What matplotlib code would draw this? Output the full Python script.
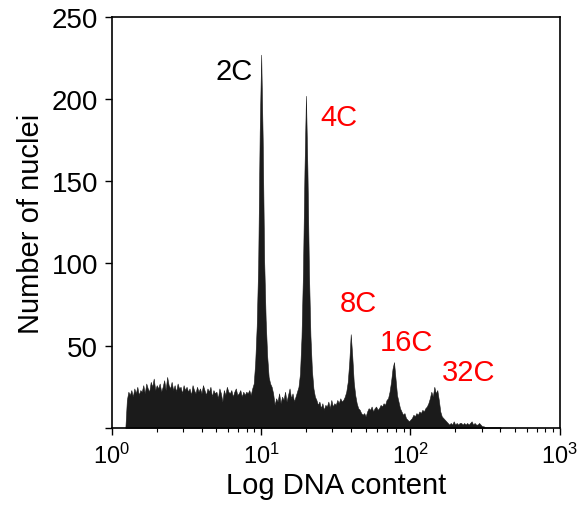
"""DNA content histogram (flow cytometry) with ploidy peaks labelled."""

import numpy as np
import matplotlib

matplotlib.use("Agg")
from matplotlib import pyplot as plt
from matplotlib.ticker import LogLocator, FixedLocator, NullFormatter

plt.rcParams["font.family"] = ["Liberation Sans", "DejaVu Sans"]

# channels are evenly spaced on the log axis, starting at 10**LOG_START
LOG_START = 0.09
LOG_STEP = 0.01

# nuclei per channel (one row per 0.1 decade)
counts = [
    0,
    17, 22, 20, 23, 19, 24, 21, 25, 20, 23,          # 0.10
    22, 26, 21, 27, 24, 22, 28, 25, 30, 23,          # 0.20
    26, 24, 27, 22, 25, 29, 23, 31, 26, 24,          # 0.30
    28, 23, 26, 22, 27, 24, 25, 21, 26, 23,          # 0.40
    25, 22, 24, 20, 26, 23, 21, 25, 22, 24,          # 0.50
    21, 26, 23, 20, 24, 22, 25, 19, 23, 21,          # 0.60
    22, 18, 24, 21, 16, 23, 20, 25, 22, 21,          # 0.70
    23, 19, 22, 24, 20, 21, 23, 19, 22, 20,          # 0.80
    22, 21, 23, 20, 24, 27, 40, 62, 100, 180,        # 0.90  (2C)
    227, 176, 102, 66, 44, 31, 27, 25, 21, 14,       # 1.00
    18, 16, 21, 15, 19, 17, 22, 16, 20, 24,          # 1.10
    18, 21, 16, 19, 22, 25, 33, 55, 95, 156,         # 1.20  (4C)
    202, 156, 95, 56, 35, 24, 19, 17, 14, 16,        # 1.30
    12, 15, 11, 14, 13, 16, 12, 17, 13, 15,          # 1.40
    14, 17, 15, 18, 16, 17, 19, 22, 28, 40,          # 1.50  (8C)
    57, 44, 28, 20, 15, 12, 11, 9, 8, 9,             # 1.60
    7, 10, 12, 11, 13, 10, 12, 13, 11, 12,           # 1.70
    14, 13, 15, 14, 17, 18, 22, 28, 36, 40,          # 1.80  (16C)
    30, 20, 16, 12, 10, 8, 9, 6, 5, 4,               # 1.90
    5, 6, 8, 7, 9, 8, 10, 9, 11, 10,                 # 2.00
    12, 13, 15, 18, 22, 19, 25, 21, 23, 17,          # 2.10  (32C)
    10, 7, 6, 5, 4, 3, 2, 3, 2, 4,                   # 2.20
    2, 3, 2, 3, 3, 2, 3, 2, 3, 2,                    # 2.30
    3, 4, 2, 3, 2, 2, 3, 2, 1, 1,                    # 2.40
    0.5, 0.5, 0.5, 0.5, 0.5, 0.5, 0.5, 0.5, 0.5, 0.5,  # 2.50
    0.5, 0,
]

peak_labels = ["2C", "4C", "8C", "16C", "32C"]
peak_label_x = [6.6, 33.0, 45.0, 94.0, 245.0]
peak_label_y = [217, 189, 76, 52, 34]
peak_label_colors = ["black", "red", "red", "red", "red"]

y_ticks = [0, 50, 100, 150, 200, 250]
y_tick_labels = ["", "50", "100", "150", "200", "250"]

dna = 10 ** (LOG_START + LOG_STEP * np.arange(len(counts)))

fig = plt.figure(figsize=(5.83, 5.10), dpi=100)
ax = fig.add_axes([0.192, 0.159, 0.768, 0.806])

ax.fill_between(dna, counts, 0, color="#1b1b1b", linewidth=0.4, edgecolor="#1b1b1b")

for text, x, y, color in zip(peak_labels, peak_label_x, peak_label_y, peak_label_colors):
    ax.text(x, y, text, color=color, fontsize=21, ha="center", va="center")

ax.set_xscale("log")
ax.set_xlim(1, 1000)
ax.set_ylim(0, 250)
ax.xaxis.set_major_locator(LogLocator(base=10, numticks=10))
ax.xaxis.set_minor_locator(LogLocator(base=10, subs=np.arange(2, 10), numticks=20))
ax.xaxis.set_minor_formatter(NullFormatter())
ax.yaxis.set_major_locator(FixedLocator(y_ticks))
ax.set_yticklabels(y_tick_labels)

ax.tick_params(axis="y", which="major", direction="out", length=5, width=1.0,
               labelsize=20, pad=5)
ax.tick_params(axis="x", which="major", direction="out", length=5, width=1.0,
               labelsize=17, pad=6)
ax.tick_params(axis="x", which="minor", direction="out", length=3, width=0.8)
for spine in ax.spines.values():
    spine.set_linewidth(1.2)

ax.set_xlabel("Log DNA content", fontsize=21, labelpad=2)
ax.set_ylabel("Number of nuclei", fontsize=21, labelpad=5)

fig.savefig("out.png", dpi=100)
